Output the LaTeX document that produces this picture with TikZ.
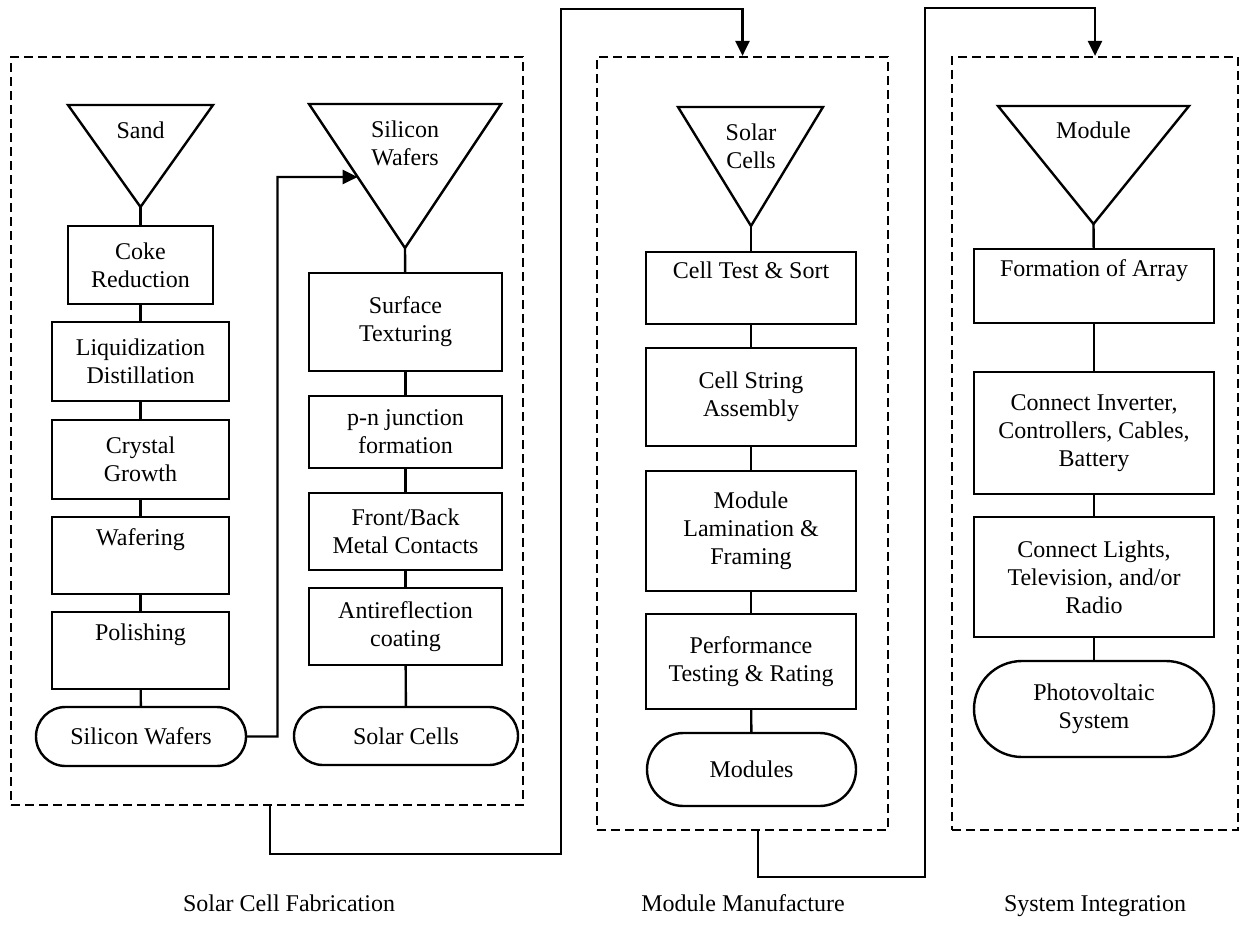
\documentclass[tikz,border=0pt]{standalone}
\usepackage{fontspec}
\setmainfont{Liberation Serif}
\usetikzlibrary{shapes.misc,arrows.meta,calc}
\begin{document}
\begin{tikzpicture}[x=1pt,y=-1pt,
  every node/.style={font=\fontsize{24}{28}\selectfont},
  lbl/.style={align=center, inner sep=0pt},
  caption/.style={anchor=base, inner sep=0pt},
  box/.style={draw, line width=2.4pt, rectangle, align=center, inner sep=0pt},
  term/.style={draw, line width=2.4pt, rounded rectangle, align=center, inner sep=0pt},
  tri/.style={draw, line width=2.4pt, line join=miter},
  link/.style={line width=2.4pt},
  flow/.style={line width=2.4pt, line join=miter, -{Triangle[length=15pt,width=14pt]}},
  frame/.style={draw, line width=2.2pt, dash pattern=on 9pt off 5pt, inner sep=0pt}]
\useasboundingbox (0,0) rectangle (1245,942);

% frames
\node[frame, minimum width=512pt, minimum height=748pt] (fab) at (267,431) {};
\node[frame, minimum width=291pt, minimum height=773pt] (mfr) at (742.5,443.5) {};
\node[frame, minimum width=286pt, minimum height=773pt] (sfr) at (1095,443.5) {};

% ---- column A
\draw[tri] (68,105) -- (213,105) -- (140.5,207) -- cycle;
\coordinate (sandtip) at (140.5,207);
\node[lbl] (sand) at (140.5,130) {Sand};
\node[box, minimum width=145pt, minimum height=78pt] (coke) at (140.5,265) {Coke\\Reduction};
\node[box, minimum width=177pt, minimum height=79pt] (liq) at (140.5,361.5) {Liquidization\\Distillation};
\node[box, minimum width=177pt, minimum height=79pt] (cry) at (140.5,459.5) {Crystal\\Growth};
\node[box, minimum width=177pt, minimum height=77pt] (waf) at (140.5,555.5) {Wafering\\\strut};
\node[box, minimum width=177pt, minimum height=77pt] (pol) at (140.5,650.5) {Polishing\\\strut};
\node[term, minimum width=210pt, minimum height=59pt] (swout) at (141,736.5) {Silicon Wafers};
\draw[link] (sandtip) -- (coke);
\draw[link] (coke) -- (liq);
\draw[link] (liq) -- (cry);
\draw[link] (cry) -- (waf);
\draw[link] (waf) -- (pol);
\draw[link] (pol) -- (swout);

% ---- column B
\coordinate (swtl) at (309,104);
\coordinate (swtip) at (405,248);
\draw[tri] (swtl) -- (501,104) -- (swtip) -- cycle;
\node[lbl] (swin) at (405,143) {Silicon\\Wafers};
\node[box, minimum width=193pt, minimum height=98pt] (surf) at (405.5,322) {Surface\\Texturing};
\node[box, minimum width=193pt, minimum height=72pt] (pn) at (405.5,432) {p-n junction\\formation};
\node[box, minimum width=193pt, minimum height=77pt] (fb) at (405.5,531.5) {Front/Back\\Metal Contacts};
\node[box, minimum width=193pt, minimum height=77pt] (ar) at (405.5,626.5) {Antireflection\\coating};
\node[term, minimum width=224pt, minimum height=58pt] (scout) at (406,736) {Solar Cells};
\draw[link] (swtip) -- (surf);
\draw[link] (surf) -- (pn);
\draw[link] (pn) -- (fb);
\draw[link] (fb) -- (ar);
\draw[link] (ar) -- (scout);

\coordinate (bend1) at (277.5,177);
\coordinate (swedge) at ($(swtl)!0.507!(swtip)$);
\draw[flow] (swout.east) -| (bend1) -- (swedge);

% ---- module manufacture
\coordinate (sctip) at (751,226);
\draw[tri] (678,107) -- (823,107) -- (sctip) -- cycle;
\node[lbl] (scin) at (751,146) {Solar\\Cells};
\node[box, minimum width=210pt, minimum height=72pt] (test) at (751,288) {Cell Test \& Sort\\\strut};
\node[box, minimum width=210pt, minimum height=98pt] (string) at (751,397) {Cell String\\Assembly};
\node[box, minimum width=210pt, minimum height=120pt] (lam) at (751,531) {Module\\Lamination \&\\Framing};
\node[box, minimum width=210pt, minimum height=95pt] (perf) at (751,661.5) {Performance\\Testing \& Rating};
\node[term, minimum width=209pt, minimum height=73pt] (modout) at (751.5,769.5) {Modules};
\draw[link] (sctip) -- (test);
\draw[link] (test) -- (string);
\draw[link] (string) -- (lam);
\draw[link] (lam) -- (perf);
\draw[link] (perf) -- (modout);

% ---- system integration
\coordinate (modtip) at (1093.5,224);
\draw[tri] (998,106) -- (1189,106) -- (modtip) -- cycle;
\node[lbl] (modin) at (1093.5,130) {Module};
\node[box, minimum width=240pt, minimum height=74pt] (array) at (1094,286) {Formation of Array\\\strut};
\node[box, minimum width=240pt, minimum height=122pt] (inv) at (1094,433) {Connect Inverter,\\Controllers, Cables,\\Battery};
\node[box, minimum width=240pt, minimum height=120pt] (lights) at (1094,577) {Connect Lights,\\Television, and/or\\Radio};
\node[term, minimum width=240pt, minimum height=96pt] (pv) at (1094,709) {Photovoltaic\\System};
\draw[link] (modtip) -- (array);
\draw[link] (array) -- (inv);
\draw[link] (inv) -- (lights);
\draw[link] (lights) -- (pv);

% ---- inter-stage connectors
\coordinate (c1s) at (270,805);
\coordinate (c1a) at (270,854);
\coordinate (c1b) at (561,854);
\coordinate (c1c) at (561,9);
\coordinate (c1d) at (742.5,9);
\draw[flow] (c1s) -- (c1a) -- (c1b) -- (c1c) -- (c1d) -- (mfr.north);

\coordinate (c2s) at (758,830);
\coordinate (c2a) at (758,877);
\coordinate (c2b) at (925,877);
\coordinate (c2c) at (925,8);
\coordinate (c2d) at (1095,8);
\draw[flow] (c2s) -- (c2a) -- (c2b) -- (c2c) -- (c2d) -- (sfr.north);

% ---- captions
\node[caption] (capA) at (289,911) {Solar Cell Fabrication};
\node[caption] (capB) at (743,911) {Module Manufacture};
\node[caption] (capC) at (1095,911) {System Integration};
\end{tikzpicture}
\end{document}
